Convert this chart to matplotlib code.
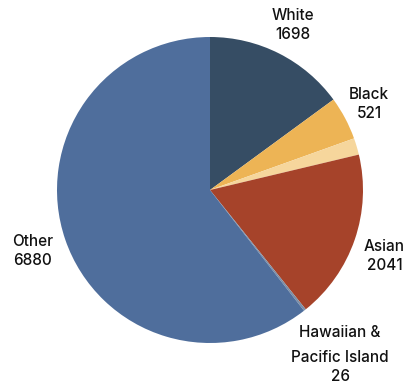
import matplotlib
matplotlib.use("Agg")
import matplotlib.pyplot as plt

plt.rcParams['font.family'] = ['Inter', 'DejaVu Sans']

# Dados
groups = ["White", "Black", "", "Asian", "Hawaiian &", "Other"]
counts = [1698, 521, 200, 2041, 26, 6880]
colors = ["#364d64", "#edb455", "#f6d69c", "#a6432a", "#7d8fa6", "#4f6e9c"]

# Posições dos rótulos (coordenadas do eixo)
label_pos = [(0.54, 1.08), (1.04, 0.56), None, (1.14, -0.43), (0.85, -0.93), (-1.16, -0.40)]

fig = plt.figure(figsize=(4.08, 3.85), dpi=100)
ax = fig.add_axes([57 / 408, 42 / 385, 306 / 408, 306 / 385])

ax.pie(counts, colors=colors, startangle=90, counterclock=False,
       wedgeprops={"linewidth": 0})

estilo = dict(ha="center", va="center", fontsize=11, color="#111111",
              fontweight="medium", linespacing=1.35)
for g, c, pos in zip(groups, counts, label_pos):
    if pos is None:
        continue
    if g.startswith("Hawaiian"):
        # rótulo em duas partes, com espaço maior após a primeira linha
        ax.text(pos[0], pos[1], g, **estilo)
        ax.text(pos[0], pos[1] - 0.225, f"Pacific Island\n{c}", **estilo)
    else:
        ax.text(pos[0], pos[1], f"{g}\n{c}", **estilo)

ax.set_xlim(-1, 1)
ax.set_ylim(-1, 1)
ax.set_aspect("equal")
ax.axis("off")

fig.savefig("out.png", dpi=100)
